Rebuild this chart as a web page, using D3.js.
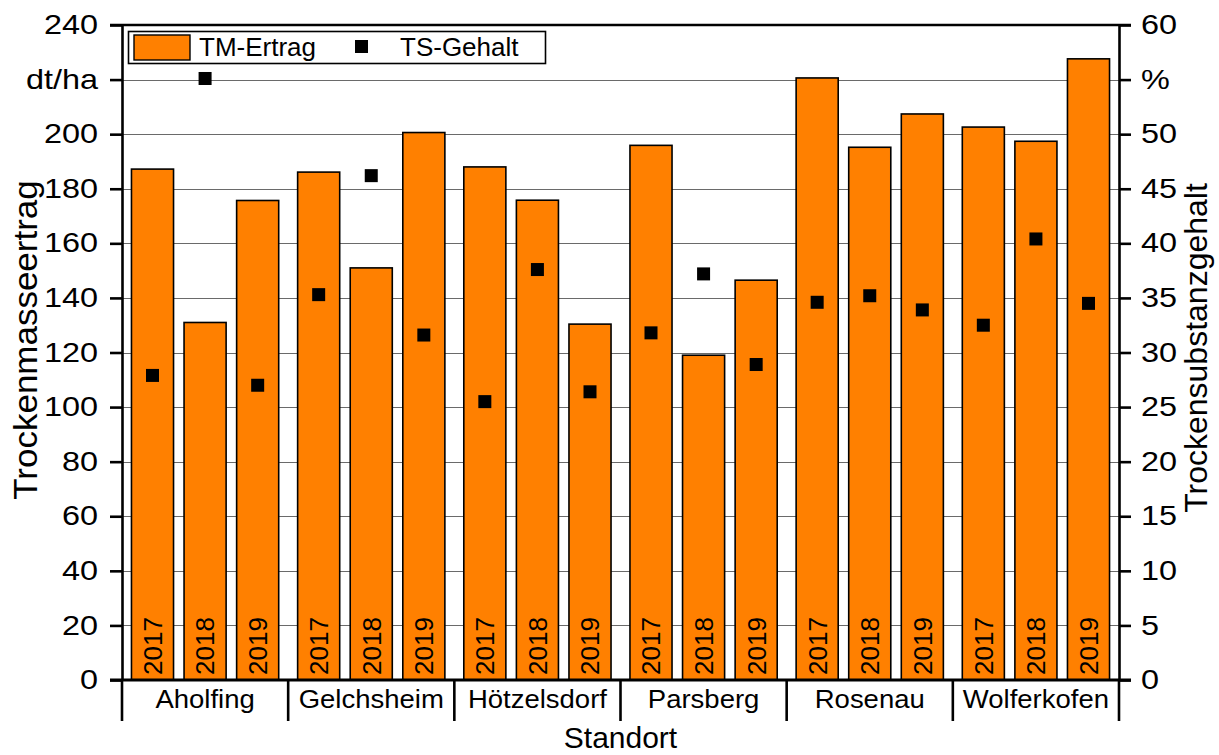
<!DOCTYPE html>
<html>
<head>
<meta charset="utf-8">
<script src="https://cdn.jsdelivr.net/npm/d3@7"></script>
<style>
  html, body { margin: 0; padding: 0; background: #fff; }
  svg { display: block; font-family: "Liberation Sans", Arial, sans-serif; }
</style>
</head>
<body>
<svg id="chart" width="1219" height="755"></svg>
<script>
// Standorte and years
const standorte = ["Aholfing", "Gelchsheim", "Hötzelsdorf", "Parsberg", "Rosenau", "Wolferkofen"];
const jahre = ["2017", "2018", "2019"];

// Dry matter yield (dt/ha), per Standort in year order
const tmErtrag = [
  [187.2, 131.0, 175.7],
  [186.1, 151.0, 200.6],
  [188.0, 175.8, 130.4],
  [195.9, 119.0, 146.5],
  [220.6, 195.2, 207.4],
  [202.6, 197.4, 227.6]
];

// Dry substance content (%), per Standort in year order
const tsGehalt = [
  [27.9, 55.1, 27.0],
  [35.3, 46.2, 31.6],
  [25.5, 37.6, 26.4],
  [31.8, 37.2, 28.9],
  [34.6, 35.2, 33.9],
  [32.5, 40.4, 34.5]
];

// Axis ticks
const leftTicks = [0, 20, 40, 60, 80, 100, 120, 140, 160, 180, 200, 220, 240];
const rightTicks = [0, 5, 10, 15, 20, 25, 30, 35, 40, 45, 50, 55, 60];

const rows = [];
standorte.forEach((s, i) => jahre.forEach((j, k) => rows.push({
  standort: s, jahr: j, ertrag: tmErtrag[i][k], gehalt: tsGehalt[i][k]
})));

const svg = d3.select("#chart");
const m = { left: 122, right: 1119, top: 25, bottom: 680 };

const x0 = d3.scaleBand().domain(standorte).range([m.left, m.right]).paddingInner(0).paddingOuter(0);
const x1 = d3.scaleBand().domain(jahre).range([0, x0.bandwidth()]).paddingInner(0.2).paddingOuter(0.18);
const yL = d3.scaleLinear().domain([0, 240]).range([m.bottom, m.top]);
const yR = d3.scaleLinear().domain([0, 60]).range([m.bottom, m.top]);

const axisW = 2.6;
const fontTick = 27;
const tickStretch = 1.2;

// grid lines
svg.append("g")
  .selectAll("line")
  .data(leftTicks.filter(t => t > 0 && t < 240))
  .join("line")
  .attr("x1", m.left).attr("x2", m.right)
  .attr("y1", d => Math.round(yL(d)) + 0.5).attr("y2", d => Math.round(yL(d)) + 0.5)
  .attr("stroke", "#6a6a6a").attr("stroke-width", 1);

// bars
const bars = svg.append("g");
bars.selectAll("rect")
  .data(rows)
  .join("rect")
  .attr("x", d => x0(d.standort) + x1(d.jahr))
  .attr("width", x1.bandwidth())
  .attr("y", d => yL(d.ertrag))
  .attr("height", d => yL(0) - yL(d.ertrag))
  .attr("fill", "#FF8000")
  .attr("stroke", "#000").attr("stroke-width", 1.6);

// year labels inside bars
const yearFont = 26;
bars.selectAll("text")
  .data(rows)
  .join("text")
  .attr("transform", d => `translate(${x0(d.standort) + x1(d.jahr) + x1.bandwidth() / 2 + yearFont * 0.36},${m.bottom - 5}) rotate(-90)`)
  .attr("text-anchor", "start")
  .attr("font-size", yearFont)
  .attr("fill", "#000")
  .text(d => d.jahr);

// TS-Gehalt squares
const sq = 13;
svg.append("g")
  .selectAll("rect")
  .data(rows)
  .join("rect")
  .attr("x", d => x0(d.standort) + x1(d.jahr) + x1.bandwidth() / 2 - sq / 2)
  .attr("y", d => yR(d.gehalt) - sq / 2)
  .attr("width", sq).attr("height", sq)
  .attr("fill", "#000");

function styleAxis(g) {
  g.select(".domain").attr("stroke-width", axisW);
  g.selectAll(".tick line").attr("stroke-width", axisW);
  g.selectAll(".tick text")
    .attr("font-size", fontTick)
    .attr("font-family", "Liberation Sans, Arial, sans-serif")
    .attr("fill", "#000")
    .each(function () {
      const t = d3.select(this);
      const x = +t.attr("x");
      t.attr("x", 0).attr("transform", `translate(${x},0) scale(${tickStretch},1)`);
    });
}

// left axis
const axL = svg.append("g")
  .attr("transform", `translate(${m.left},0)`)
  .call(d3.axisLeft(yL).tickValues(leftTicks).tickSize(12).tickSizeOuter(0).tickPadding(12)
    .tickFormat(d => d === 220 ? "dt/ha" : d));
styleAxis(axL);

// right axis
const axR = svg.append("g")
  .attr("transform", `translate(${m.right},0)`)
  .call(d3.axisRight(yR).tickValues(rightTicks).tickSize(12).tickSizeOuter(0).tickPadding(10)
    .tickFormat(d => d === 55 ? "%" : d));
styleAxis(axR);

// top frame line and bottom baseline
svg.append("line")
  .attr("x1", m.left - 12).attr("x2", m.right + 12)
  .attr("y1", m.top).attr("y2", m.top)
  .attr("stroke", "#000").attr("stroke-width", axisW);
svg.append("line")
  .attr("x1", m.left - 12).attr("x2", m.right + 12)
  .attr("y1", m.bottom).attr("y2", m.bottom)
  .attr("stroke", "#000").attr("stroke-width", axisW + 0.6);

// group separators and Standort labels
const sepX = standorte.map(s => x0(s)).concat([m.right]);
svg.append("g")
  .selectAll("line")
  .data(sepX)
  .join("line")
  .attr("x1", d => d).attr("x2", d => d)
  .attr("y1", m.bottom).attr("y2", m.bottom + 41)
  .attr("stroke", "#000").attr("stroke-width", axisW);
svg.append("g")
  .selectAll("text")
  .data(standorte)
  .join("text")
  .attr("transform", d => `translate(${x0(d) + x0.bandwidth() / 2},${m.bottom + 28}) scale(1.1,1)`)
  .attr("text-anchor", "middle")
  .attr("font-size", 25)
  .text(d => d);

// axis titles
svg.append("text")
  .attr("x", (m.left + m.right) / 2).attr("y", 748)
  .attr("text-anchor", "middle").attr("font-size", 30)
  .text("Standort");
svg.append("text")
  .attr("transform", `translate(37,${340}) rotate(-90) scale(1.06,1)`)
  .attr("text-anchor", "middle").attr("font-size", 33)
  .text("Trockenmasseertrag");
svg.append("text")
  .attr("transform", `translate(1207,${348}) rotate(-90)`)
  .attr("text-anchor", "middle").attr("font-size", 32)
  .text("Trockensubstanzgehalt");

// legend
const lg = svg.append("g");
lg.append("rect").attr("x", 128.5).attr("y", 31.5).attr("width", 417).attr("height", 32)
  .attr("fill", "#fff").attr("stroke", "#000").attr("stroke-width", 1.6);
lg.append("rect").attr("x", 134).attr("y", 35).attr("width", 56).attr("height", 25)
  .attr("fill", "#FF8000").attr("stroke", "#000").attr("stroke-width", 1.4);
lg.append("text").attr("x", 199).attr("y", 56).attr("font-size", 26).text("TM-Ertrag");
lg.append("rect").attr("x", 355).attr("y", 40).attr("width", sq).attr("height", sq).attr("fill", "#000");
lg.append("text").attr("x", 400).attr("y", 56).attr("font-size", 26).text("TS-Gehalt");
</script>
</body>
</html>
